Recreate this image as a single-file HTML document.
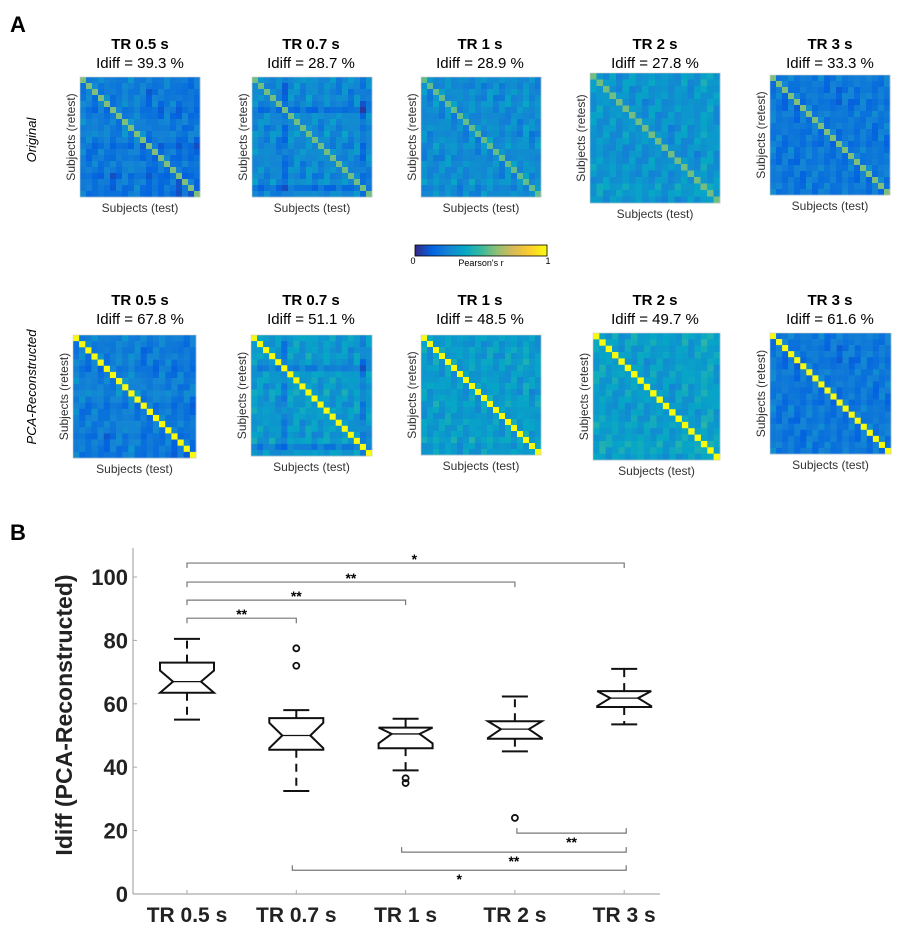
<!DOCTYPE html>
<html><head><meta charset="utf-8"><style>
body{margin:0;background:#fff;width:908px;height:935px;overflow:hidden}
svg{display:block;font-family:"Liberation Sans",sans-serif}
</style></head><body>
<svg id="root" width="908" height="935" viewBox="0 0 908 935">
<text x="10" y="32" font-size="22" font-weight="bold">A</text>
<text x="10" y="540" font-size="22" font-weight="bold">B</text>
<text transform="translate(36,140) rotate(-90)" text-anchor="middle" font-size="13" font-style="italic">Original</text>
<text transform="translate(36,387) rotate(-90)" text-anchor="middle" font-size="13" font-style="italic">PCA-Reconstructed</text>
<g id="maps"></g>
<g id="cbar"></g>
<g id="box"></g>
</svg>
<script>
// ---- heatmap data ----
const trLabels=["TR 0.5 s","TR 0.7 s","TR 1 s","TR 2 s","TR 3 s"];
const idiffOrig=["39.3","28.7","28.9","27.8","33.3"];
const idiffPca=["67.8","51.1","48.5","49.7","61.6"];
// per-subject off-diagonal level (approximate)
const lvOrig0=[.26,.22,.20,.22,.24,.16,.20,.26,.24,.28,.22,.12,.20,.16,.24,.20,.12,.18,.16,.14];
const lvOrig1=[.30,.26,.24,.28,.22,.08,.28,.30,.24,.32,.26,.24,.30,.26,.24,.28,.22,.30,.08,.26];
const lvOrig2=[.28,.24,.30,.26,.32,.28,.24,.26,.30,.24,.28,.32,.26,.24,.30,.28,.26,.34,.24,.28];
const lvOrig3=[.32,.34,.30,.32,.28,.32,.30,.31,.29,.32,.30,.28,.26,.30,.33,.28,.30,.38,.36,.30];
const lvOrig4=[.24,.20,.18,.22,.16,.18,.24,.20,.22,.18,.20,.16,.22,.20,.18,.24,.20,.18,.22,.20];
const lvPca0=[.26,.22,.20,.24,.22,.16,.22,.26,.24,.30,.24,.16,.20,.20,.24,.22,.16,.20,.18,.16];
const lvPca1=[.36,.32,.30,.34,.28,.14,.34,.36,.30,.38,.32,.30,.36,.32,.30,.34,.28,.36,.12,.32];
const lvPca2=[.34,.30,.36,.32,.37,.34,.30,.32,.36,.30,.34,.37,.32,.30,.36,.34,.32,.40,.30,.34];
const lvPca3=[.36,.38,.33,.35,.31,.34,.36,.35,.32,.35,.33,.31,.30,.34,.38,.32,.35,.42,.40,.33];
const lvPca4=[.24,.20,.18,.22,.16,.18,.24,.20,.22,.18,.20,.16,.22,.20,.18,.24,.20,.18,.22,.20];
const texture=[.04,-.05,.02,-.03,.06,-.02,.00,-.06,.03,.05,-.04,.01,-.01,.07,-.05,.02,-.03,.04,-.02,.00];
const diagOrig=[.60,.58,.56,.58,.60];
const diagPca=[1.0,1.0,1.0,1.0,1.0];
const levelsOrig=[lvOrig0,lvOrig1,lvOrig2,lvOrig3,lvOrig4];
const levelsPca=[lvPca0,lvPca1,lvPca2,lvPca3,lvPca4];

// ---- box plot data ----
const groups=["TR 0.5 s","TR 0.7 s","TR 1 s","TR 2 s","TR 3 s"];
const wLow=[55,32.5,39,45,53.5];
const q1=[63.5,45.5,46,49,59];
const med=[67,50,50.5,52,61.8];
const q3=[73,55.5,52.5,54.5,64];
const wHigh=[80.5,58,55.3,62.3,71];
const notchLo=[63.5,46,47.5,49.2,59.3];
const notchHi=[70.5,54,52.5,54.5,64];
const outliers=[[],[72,77.5],[35,36.5],[24],[]];
const yTicks=[0,20,40,60,80,100];
const sigFrom=[0,0,0,0,3,2,1];
const sigTo=[4,3,2,1,4,4,4];
const sigY=[104.4,98.4,92.7,87,19.2,13.2,7.5];
const sigLabel=["*","**","**","**","**","**","*"];

const NS="http://www.w3.org/2000/svg";
function mk(tag,attrs,parent){const e=document.createElementNS(NS,tag);for(const k in attrs)e.setAttribute(k,attrs[k]);parent.appendChild(e);return e;}
const stops=[[53,42,135],[3,99,225],[20,132,212],[6,167,198],[56,185,158],[146,191,115],[217,186,86],[252,206,46],[249,251,14]];
function parula(v){v=Math.max(0,Math.min(1,v));const p=v*8,i=Math.min(7,Math.floor(p)),f=p-i;const a=stops[i],b=stops[i+1];return `rgb(${Math.round(a[0]+(b[0]-a[0])*f)},${Math.round(a[1]+(b[1]-a[1])*f)},${Math.round(a[2]+(b[2]-a[2])*f)})`;}

const mapsG=document.getElementById('maps');
const cx=[140,311,480,655,830];
const boxesX=[[80,77,120],[252,77,120],[421,77,120],[590,73,130],[770,75,120]];
const boxesX2=[[73,335,123],[251,335,121],[421,335,120],[593,333,127],[770,333,121]];
function drawMap(k,row){
  const lv=row?levelsPca[k]:levelsOrig[k], dg=row?diagPca[k]:diagOrig[k];
  const [x0,y0,s]=row?boxesX2[k]:boxesX[k];
  const n=lv.length,c=s/n;
  const g=mk('g',{},mapsG);
  
  
  for(let i=0;i<n;i++)for(let j=0;j<n;j++){
    const v=i===j?dg:(lv[i]+lv[j])/2+texture[(i*7+j*3+k*5)%n];
    const r=mk('rect',{x:(x0+j*c).toFixed(2),y:(y0+i*c).toFixed(2),width:(c+0.3).toFixed(2),height:(c+0.3).toFixed(2),fill:parula(v)},g);
    
    
  }
  mk('rect',{x:x0,y:y0,width:s,height:s,fill:'none',stroke:'#ccc','stroke-width':0.6},g);
  const ty=row?305:49;
  const t1=mk('text',{x:cx[k],y:ty,'text-anchor':'middle','font-size':15,'font-weight':'bold'},g);t1.textContent=trLabels[k];
  
  const t2=mk('text',{x:cx[k],y:ty+19,'text-anchor':'middle','font-size':15},g);t2.textContent='Idiff = '+(row?idiffPca[k]:idiffOrig[k])+' %';
  
  const t3=mk('text',{x:x0+s/2,y:y0+s+15,'text-anchor':'middle','font-size':12,fill:'#333'},g);t3.textContent='Subjects (test)';
  
  const t4=mk('text',{transform:`translate(${x0-5},${y0+s/2}) rotate(-90)`,'text-anchor':'middle','font-size':12,fill:'#333'},g);t4.textContent='Subjects (retest)';
  
}
for(let k=0;k<5;k++){drawMap(k,0);drawMap(k,1);}

// colorbar
const cb=document.getElementById('cbar');
for(let i=0;i<132;i++)mk('rect',{x:415+i,y:245,width:1.2,height:11,fill:parula(i/131)},cb);
mk('rect',{x:415,y:245,width:132,height:11,fill:'none',stroke:'#000','stroke-width':0.8},cb);
[[413,'0'],[548,'1']].forEach(([x,s])=>{const t=mk('text',{x:x,y:264,'font-size':9,'text-anchor':'middle'},cb);t.textContent=s;});
const cbt=mk('text',{x:481,y:266,'font-size':9,'text-anchor':'middle'},cb);cbt.textContent="Pearson's r";


// box plot
const B=document.getElementById('box');
const y0px=894,y100px=577;
const yS=v=>y0px+(y100px-y0px)*v/100;
const xS=i=>187+i*109.3;
mk('line',{x1:133,y1:548,x2:133,y2:894,stroke:'#aaa','stroke-width':1.2},B);
mk('line',{x1:133,y1:894,x2:660,y2:894,stroke:'#aaa','stroke-width':1.2},B);
yTicks.forEach(v=>{mk('line',{x1:133,y1:yS(v),x2:137,y2:yS(v),stroke:'#aaa'},B);
  const t=mk('text',{x:128,y:yS(v)+8,'text-anchor':'end','font-size':22,'font-weight':'bold',fill:'#222'},B);t.textContent=v;
  });
const yt=mk('text',{transform:'translate(72,715) rotate(-90)','text-anchor':'middle','font-size':23,'font-weight':'bold',fill:'#222'},B);
yt.textContent='Idiff (PCA-Reconstructed)';

groups.forEach((g,i)=>{
  const x=xS(i),hw=27,nw=14,cw=13;
  mk('line',{x1:x,y1:894,x2:x,y2:890,stroke:'#aaa'},B);
  const t=mk('text',{x:x,y:922,'text-anchor':'middle','font-size':21,'font-weight':'bold',fill:'#222'},B);t.textContent=g;
  
  const bg=mk('g',{},B);
  
  
  const st={stroke:'#111','stroke-width':2,fill:'none'};
  mk('line',Object.assign({x1:x,y1:yS(q1[i]),x2:x,y2:yS(wLow[i]),'stroke-dasharray':'8,6'},st),bg);
  mk('line',Object.assign({x1:x,y1:yS(q3[i]),x2:x,y2:yS(wHigh[i]),'stroke-dasharray':'8,6'},st),bg);
  mk('line',Object.assign({x1:x-cw,y1:yS(wLow[i]),x2:x+cw,y2:yS(wLow[i])},st),bg);
  mk('line',Object.assign({x1:x-cw,y1:yS(wHigh[i]),x2:x+cw,y2:yS(wHigh[i])},st),bg);
  const pts=[[x-hw,q1[i]],[x-hw,notchLo[i]],[x-nw,med[i]],[x-hw,notchHi[i]],[x-hw,q3[i]],[x+hw,q3[i]],[x+hw,notchHi[i]],[x+nw,med[i]],[x+hw,notchLo[i]],[x+hw,q1[i]]];
  mk('polygon',Object.assign({points:pts.map(p=>p[0]+','+yS(p[1]).toFixed(1)).join(' ')},st),bg);
  mk('line',{x1:x-nw,y1:yS(med[i]),x2:x+nw,y2:yS(med[i]),stroke:'#111','stroke-width':1.3},bg);
  outliers[i].forEach(o=>{const c=mk('circle',{cx:x,cy:yS(o),r:3,fill:'none',stroke:'#111','stroke-width':1.8},bg);
    });
});
sigFrom.forEach((f,k)=>{
  const up=sigY[k]>50, y=yS(sigY[k]), d=up?5:-5;
  const xa=xS(f)+(up?0:(f===3?2:-4)), xb=xS(sigTo[k])+(up?0:2);
  const g=mk('g',{},B);
  
  
  mk('polyline',{points:`${xa},${y+d} ${xa},${y} ${xb},${y} ${xb},${y+d}`,fill:'none',stroke:'#777','stroke-width':1.2},g);
  const lx=up?(xa+(xS(sigTo[k])-xa)*(k===0?0.52:0.5)):(xa+(xb-xa)*0.5);
  const t=mk('text',{x:lx,y:up?y+1:y+14,'text-anchor':'middle','font-size':14,'font-weight':'bold'},g);t.textContent=sigLabel[k];
});
</script>
</body></html>
